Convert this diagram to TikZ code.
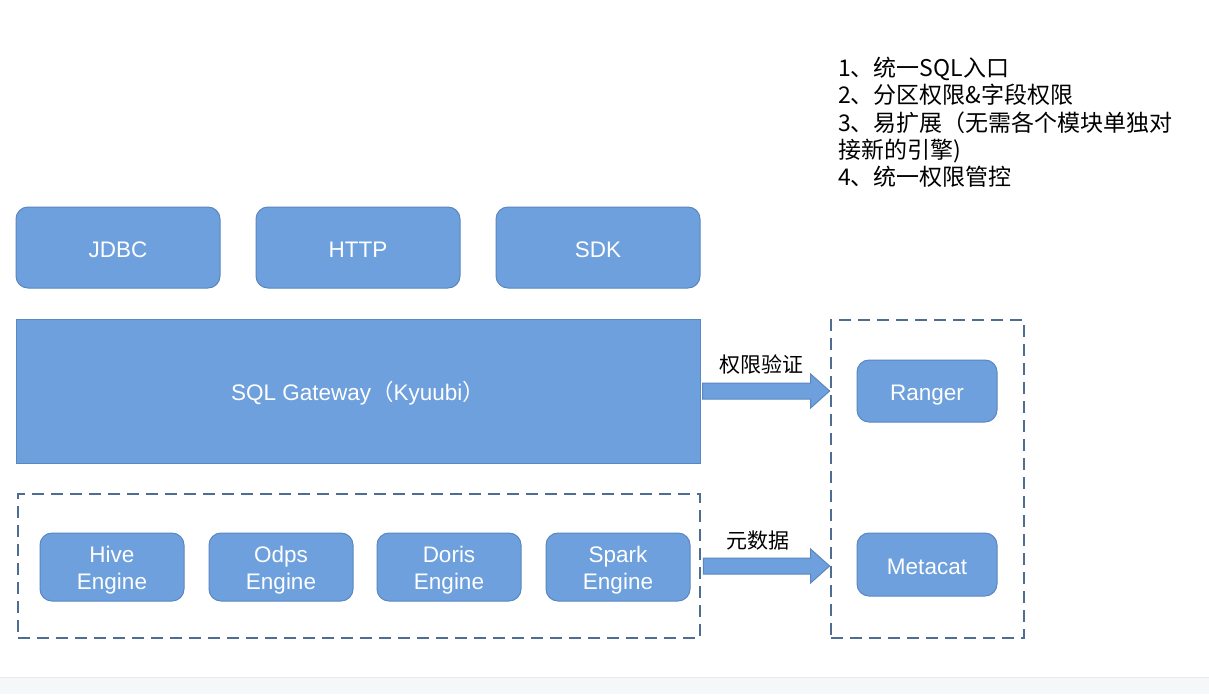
\documentclass[tikz,border=0pt]{standalone}
\usepackage{fontspec}
\setmainfont{Liberation Sans}
\newfontfamily\cjk{Noto Sans CJK SC}
\usetikzlibrary{calc}
\definecolor{boxfill}{HTML}{6DA0DC}
\definecolor{boxline}{HTML}{5A87C0}
\definecolor{dashline}{HTML}{4E6D93}
\definecolor{stripgray}{HTML}{F6F7F9}
\definecolor{stripline}{HTML}{E8E9EC}
\tikzset{
  bluebox/.style={draw=boxline, fill=boxfill, line width=1pt, rounded corners=12pt,
    text=white, font=\fontsize{22.5}{27}\selectfont, align=center, inner sep=0pt,
    text height=19pt, text depth=0pt},
  twoline/.style={text height=44pt, text depth=0pt},
  dashbox/.style={draw=dashline, line width=2.8pt, dash pattern=on 12pt off 7pt},
  fatarrow/.style={draw=boxline, fill=boxfill, line width=1pt},
  lbl/.style={font=\cjk\fontsize{21}{27}\selectfont, inner sep=0pt},
}
\begin{document}
\begin{tikzpicture}[x=1pt,y=-1pt]
\useasboundingbox (0,0) rectangle (1209,694);
\fill[white] (0,0) rectangle (1209,694);
\fill[stripgray] (0,677) rectangle (1209,694);
\draw[stripline, line width=1pt] (0,677) -- (1209,677);

% top row
\node[bluebox, minimum width=204pt, minimum height=81pt] (jdbc) at (118,247.5) {JDBC};
\node[bluebox, minimum width=204pt, minimum height=81pt] (http) at (358,247.5) {HTTP};
\node[bluebox, minimum width=204pt, minimum height=81pt] (sdk) at (598,247.5) {SDK};

% gateway
\node[bluebox, rounded corners=0pt, minimum width=684pt, minimum height=144pt] (gw) at (358,391) {SQL Gateway{\cjk（}Kyuubi{\cjk）}};

% engine group
\node[dashbox, minimum width=682pt, minimum height=144pt, inner sep=0pt] (ebox) at (359,566) {};
\node[bluebox, twoline, minimum width=144pt, minimum height=68pt] (hive) at (112,567) {Hive\\Engine};
\node[bluebox, twoline, minimum width=144pt, minimum height=68pt] (odps) at (281,567) {Odps\\Engine};
\node[bluebox, twoline, minimum width=144pt, minimum height=68pt] (doris) at (449,567) {Doris\\Engine};
\node[bluebox, twoline, minimum width=144pt, minimum height=68pt] (spark) at (618,567) {Spark\\Engine};

% right group
\node[dashbox, minimum width=193pt, minimum height=318pt, inner sep=0pt] (rbox) at (927.5,479) {};
\node[bluebox, minimum width=140pt, minimum height=62pt] (ranger) at (927,391) {Ranger};
\node[bluebox, minimum width=140pt, minimum height=63pt] (metacat) at (927,564.5) {Metacat};

% arrows
\coordinate (a1s) at ($(gw.east)+(2,0)$);
\coordinate (a1e) at (gw.east -| rbox.west);
\draw[fatarrow] ($(a1s)+(0,-8)$) -- ($(a1e)+(-19,-8)$) -- ($(a1e)+(-19,-17)$) -- (a1e)
  -- ($(a1e)+(-19,17)$) -- ($(a1e)+(-19,8)$) -- ($(a1s)+(0,8)$) -- cycle;
\node[lbl] (l1) at (761,364) {权限验证};

\coordinate (a2s) at ($(ebox.east)+(2,0)$);
\coordinate (a2e) at (ebox.east -| rbox.west);
\draw[fatarrow] ($(a2s)+(0,-8)$) -- ($(a2e)+(-19,-8)$) -- ($(a2e)+(-19,-17)$) -- (a2e)
  -- ($(a2e)+(-19,17)$) -- ($(a2e)+(-19,8)$) -- ($(a2s)+(0,8)$) -- cycle;
\node[lbl] (l2) at (758,541) {元数据};

% notes
\node[anchor=north west, inner sep=0pt, align=left, font=\cjk\fontsize{23}{27.3}\selectfont] (notes) at (838,57)
{1、统一SQL入口\\2、分区权限\&字段权限\\3、易扩展（无需各个模块单独对\\接新的引擎)\\4、统一权限管控};
\end{tikzpicture}
\end{document}
